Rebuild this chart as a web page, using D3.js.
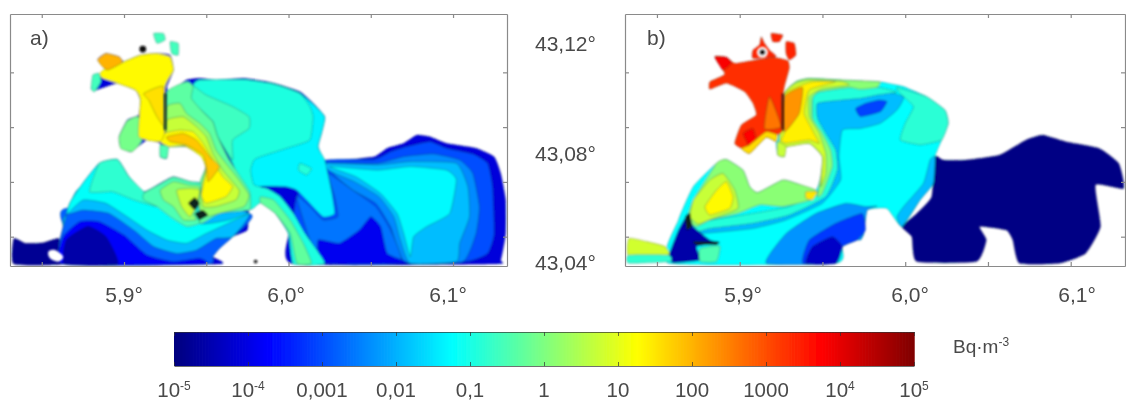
<!DOCTYPE html>
<html lang="en">
<head>
  <meta charset="UTF-8">
  <title>Bq concentration maps</title>
  <script src="https://d3js.org/d3.v7.min.js"></script>
  <style>
    body { margin: 0; background: #fff; }
    text { font-family: "Liberation Sans", Arial, sans-serif; fill: #4a4a4a; }
  </style>
</head>
<body>
  <svg id="chart" width="1126" height="400"></svg>

  <script>
    // ---- data: contour areas as [lon, lat] ----

    // panel a)
    const aOuter = [[5.884,43.1147],[5.889,43.1169],[5.897,43.1157],[5.900,43.1139],[5.910,43.1163],[5.920,43.1169],[5.928,43.1163],[5.930,43.1108],[5.926,43.1048],[5.928,43.1029],[5.938,43.1072],[5.946,43.1078],[5.956,43.1072],[5.973,43.1078],[5.987,43.1066],[5.995,43.1054],[6.007,43.1029],[6.015,43.0987],[6.022,43.0938],[6.020,43.0877],[6.018,43.0829],[6.022,43.0780],[6.033,43.0780],[6.052,43.0792],[6.060,43.0823],[6.070,43.0841],[6.078,43.0871],[6.086,43.0865],[6.096,43.0841],[6.114,43.0823],[6.125,43.0792],[6.129,43.0731],[6.132,43.0634],[6.132,43.0512],[6.129,43.0415],[6.125,43.0400],[6.003,43.0400],[6.000,43.0512],[5.992,43.0585],[5.983,43.0624],[5.976,43.0597],[5.975,43.0524],[5.966,43.0500],[5.958,43.0457],[5.954,43.0427],[5.958,43.0400],[5.863,43.0400],[5.863,43.0537],[5.867,43.0622],[5.875,43.0695],[5.885,43.0768],[5.896,43.0782],[5.903,43.0719],[5.912,43.0664],[5.922,43.0695],[5.930,43.0719],[5.940,43.0701],[5.947,43.0695],[5.950,43.0756],[5.948,43.0792],[5.938,43.0829],[5.927,43.0829],[5.926,43.0786],[5.922,43.0792],[5.922,43.0841],[5.914,43.0853],[5.904,43.0810],[5.898,43.0829],[5.897,43.0865],[5.902,43.0926],[5.909,43.0944],[5.910,43.0999],[5.907,43.1035],[5.896,43.1060],[5.883,43.1035],[5.880,43.1041],[5.884,43.1090],[5.889,43.1108]];
    const aSW = [[5.833,43.0400],[5.833,43.0493],[5.840,43.0476],[5.851,43.0478],[5.860,43.0494],[5.863,43.0463],[5.863,43.0400]];
    const aEast1 = [[6.021,43.0777],[6.052,43.0782],[6.062,43.0810],[6.072,43.0829],[6.086,43.0847],[6.096,43.0823],[6.112,43.0802],[6.121,43.0768],[6.124,43.0683],[6.125,43.0512],[6.121,43.0439],[6.106,43.0409],[6.021,43.0403],[6.003,43.0512],[6.005,43.0646]];
    const aEastBand = [[6.023,43.0768],[6.054,43.0768],[6.070,43.0792],[6.088,43.0802],[6.104,43.0780],[6.112,43.0731],[6.116,43.0610],[6.114,43.0512],[6.106,43.0409],[6.072,43.0403],[6.066,43.0464],[6.062,43.0537],[6.053,43.0622],[6.039,43.0670],[6.029,43.0719]];
    const aEastLight = [[6.021,43.0768],[6.054,43.0762],[6.074,43.0774],[6.102,43.0768],[6.109,43.0683],[6.110,43.0573],[6.104,43.0476],[6.102,43.0409],[6.074,43.0403],[6.068,43.0488],[6.064,43.0573],[6.055,43.0646],[6.040,43.0701],[6.026,43.0737]];
    const aEastCyan = [[6.025,43.0756],[6.054,43.0743],[6.074,43.0756],[6.096,43.0743],[6.102,43.0707],[6.098,43.0585],[6.084,43.0537],[6.076,43.0500],[6.074,43.0427],[6.070,43.0512],[6.066,43.0585],[6.056,43.0658],[6.041,43.0719]];
    const aMid = [[6.005,43.0646],[6.013,43.0610],[6.021,43.0561],[6.030,43.0573],[6.028,43.0646],[6.024,43.0731],[6.039,43.0670],[6.053,43.0610],[6.062,43.0524],[6.068,43.0403],[6.022,43.0403],[6.013,43.0488]];
    const aDeep = [[6.021,43.0403],[6.018,43.0488],[6.031,43.0476],[6.043,43.0524],[6.050,43.0573],[6.056,43.0537],[6.060,43.0439],[6.072,43.0403]];
    const aSBlue = [[5.866,43.0605],[5.976,43.0585],[5.966,43.0500],[5.958,43.0457],[5.954,43.0427],[5.950,43.0400],[5.863,43.0400],[5.863,43.0537]];
    const aSDark = [[5.863,43.0400],[5.863,43.0500],[5.873,43.0555],[5.885,43.0555],[5.900,43.0506],[5.914,43.0433],[5.930,43.0409],[5.946,43.0421],[5.948,43.0400]];
    const aSDarkest = [[5.864,43.0400],[5.865,43.0488],[5.878,43.0537],[5.889,43.0500],[5.896,43.0400]];
    const aSLight = [[5.866,43.0585],[5.875,43.0683],[5.946,43.0634],[5.976,43.0585],[5.966,43.0500],[5.956,43.0494],[5.944,43.0451],[5.932,43.0439],[5.918,43.0464],[5.906,43.0524],[5.891,43.0585],[5.875,43.0597]];
    const aSTop = [[5.863,43.0537],[5.867,43.0622],[5.875,43.0695],[5.885,43.0768],[5.896,43.0782],[5.903,43.0719],[5.912,43.0664],[5.922,43.0692],[5.930,43.0717],[5.940,43.0701],[5.947,43.0692],[5.946,43.0549],[5.964,43.0561],[5.976,43.0585],[5.950,43.0512],[5.938,43.0476],[5.926,43.0488],[5.914,43.0524],[5.902,43.0573],[5.889,43.0622],[5.875,43.0634],[5.864,43.0573]];
    const aSTurq = [[5.885,43.0768],[5.896,43.0782],[5.903,43.0719],[5.912,43.0664],[5.920,43.0610],[5.906,43.0634],[5.893,43.0664],[5.879,43.0664]];
    const aCentralCyan = [[5.954,43.0920],[5.966,43.0999],[5.987,43.1062],[6.007,43.1023],[6.022,43.0938],[6.018,43.0829],[6.022,43.0780],[6.026,43.0670],[6.028,43.0585],[6.021,43.0573],[6.011,43.0634],[6.005,43.0670],[5.998,43.0683],[5.983,43.0683],[5.977,43.0646],[5.966,43.0768],[5.957,43.0865]];
    const aTurq = [[5.942,43.1054],[5.946,43.1072],[5.973,43.1074],[5.987,43.1062],[5.995,43.1050],[6.007,43.1023],[6.013,43.0975],[6.015,43.0938],[6.013,43.0853],[5.999,43.0823],[5.983,43.0792],[5.979,43.0780],[5.977,43.0743],[5.979,43.0689],[5.987,43.0676],[5.995,43.0646],[6.003,43.0585],[6.010,43.0512],[6.022,43.0403],[6.003,43.0400],[6.000,43.0512],[5.992,43.0585],[5.983,43.0624],[5.976,43.0600],[5.966,43.0768],[5.957,43.0865],[5.954,43.0920],[5.948,43.0956],[5.940,43.1005]];
    const aTurqInner = [[5.942,43.1050],[5.950,43.1017],[5.966,43.0975],[5.976,43.0938],[5.976,43.0895],[5.966,43.0853],[5.966,43.0780],[5.957,43.0865],[5.954,43.0920],[5.948,43.0956],[5.940,43.1005]];
    const aTurqIslet = [[6.007,43.0768],[6.014,43.0749],[6.011,43.0725],[6.006,43.0743]];
    const aBayGreen = [[5.983,43.0646],[5.991,43.0634],[6.001,43.0561],[6.009,43.0476],[6.014,43.0403],[6.005,43.0403],[6.001,43.0512],[5.992,43.0585],[5.983,43.0624]];
    const aC1 = [[5.926,43.1029],[5.938,43.1066],[5.942,43.1050],[5.941,43.1005],[5.948,43.0956],[5.954,43.0920],[5.957,43.0865],[5.964,43.0780],[5.976,43.0670],[5.977,43.0634],[5.976,43.0597],[5.958,43.0585],[5.946,43.0549],[5.946,43.0695],[5.950,43.0756],[5.948,43.0792],[5.938,43.0829],[5.927,43.0829],[5.926,43.0889]];
    const aC2 = [[5.926,43.0975],[5.934,43.0987],[5.938,43.0950],[5.946,43.0914],[5.952,43.0877],[5.956,43.0816],[5.962,43.0768],[5.970,43.0707],[5.976,43.0652],[5.973,43.0610],[5.958,43.0585],[5.948,43.0573],[5.945,43.0634],[5.948,43.0695],[5.950,43.0756],[5.948,43.0792],[5.938,43.0829],[5.926,43.0853]];
    const aC3 = [[5.926,43.0926],[5.936,43.0938],[5.944,43.0902],[5.950,43.0865],[5.954,43.0804],[5.960,43.0743],[5.970,43.0670],[5.968,43.0634],[5.956,43.0610],[5.948,43.0610],[5.947,43.0683],[5.950,43.0756],[5.947,43.0798],[5.938,43.0835],[5.926,43.0853]];
    const aC4 = [[5.924,43.0877],[5.934,43.0889],[5.942,43.0883],[5.948,43.0841],[5.954,43.0780],[5.960,43.0719],[5.966,43.0683],[5.962,43.0646],[5.950,43.0622],[5.947,43.0652],[5.950,43.0743],[5.947,43.0792],[5.937,43.0832],[5.927,43.0829],[5.922,43.0847]];
    const aC5 = [[5.926,43.0865],[5.936,43.0877],[5.944,43.0853],[5.952,43.0792],[5.958,43.0756],[5.954,43.0719],[5.951,43.0701],[5.950,43.0756],[5.948,43.0798],[5.938,43.0835],[5.928,43.0847]];
    const aG1 = [[5.912,43.0658],[5.922,43.0692],[5.930,43.0717],[5.940,43.0701],[5.947,43.0692],[5.946,43.0646],[5.944,43.0585],[5.946,43.0549],[5.938,43.0537],[5.928,43.0573],[5.920,43.0610],[5.912,43.0634]];
    const aG2 = [[5.922,43.0670],[5.930,43.0701],[5.939,43.0689],[5.946,43.0683],[5.945,43.0634],[5.942,43.0585],[5.944,43.0561],[5.936,43.0561],[5.930,43.0610],[5.924,43.0634]];
    const aG3 = [[5.932,43.0670],[5.940,43.0676],[5.946,43.0670],[5.944,43.0610],[5.940,43.0573],[5.935,43.0610]];
    const aLobe = [[5.898,43.0822],[5.897,43.0865],[5.902,43.0923],[5.909,43.0938],[5.911,43.0853],[5.905,43.0810]];
    const aHarbour = [[5.889,43.1115],[5.900,43.1139],[5.910,43.1163],[5.920,43.1169],[5.928,43.1157],[5.930,43.1108],[5.925,43.1048],[5.925,43.0889],[5.922,43.0847],[5.909,43.0865],[5.910,43.0999],[5.907,43.1035],[5.896,43.1060],[5.887,43.1078],[5.885,43.1094]];
    const aHarbourCore = [[5.912,43.1023],[5.924,43.1048],[5.925,43.0902],[5.920,43.0938],[5.915,43.0999]];
    const aHarbourNW = [[5.884,43.1147],[5.889,43.1169],[5.897,43.1157],[5.899,43.1136],[5.890,43.1108],[5.886,43.1127]];
    const aTail = [[5.922,43.0835],[5.927,43.0829],[5.926,43.0786],[5.922,43.0792]];
    const aIslet1 = [[5.918,43.1242],[5.924,43.1242],[5.925,43.1218],[5.920,43.1206]];
    const aIslet2 = [[5.928,43.1212],[5.933,43.1206],[5.933,43.1163],[5.929,43.1169]];
    const aIslet3 = [[5.881,43.1090],[5.885,43.1096],[5.886,43.1066],[5.882,43.1029],[5.880,43.1041]];

    // panel b)
    const bNavy = [[6.016,43.0646],[6.018,43.0792],[6.023,43.0780],[6.037,43.0780],[6.057,43.0798],[6.073,43.0853],[6.083,43.0871],[6.097,43.0847],[6.117,43.0823],[6.129,43.0768],[6.132,43.0676],[6.115,43.0689],[6.118,43.0537],[6.109,43.0439],[6.093,43.0403],[6.069,43.0403],[6.065,43.0488],[6.061,43.0524],[6.045,43.0537],[6.049,43.0488],[6.043,43.0409],[6.007,43.0409],[6.004,43.0500],[5.998,43.0537],[6.007,43.0585]];
    const bBase = [[5.927,43.1023],[5.934,43.1066],[5.942,43.1078],[5.962,43.1072],[5.984,43.1066],[5.995,43.1054],[5.999,43.1048],[6.013,43.1011],[6.024,43.0962],[6.026,43.0914],[6.022,43.0853],[6.018,43.0792],[6.017,43.0695],[6.009,43.0634],[5.998,43.0537],[5.989,43.0603],[5.977,43.0597],[5.975,43.0512],[5.973,43.0488],[5.971,43.0488],[5.962,43.0464],[5.958,43.0403],[5.857,43.0403],[5.863,43.0561],[5.872,43.0683],[5.886,43.0768],[5.892,43.0782],[5.902,43.0743],[5.906,43.0683],[5.911,43.0661],[5.926,43.0707],[5.934,43.0695],[5.946,43.0670],[5.949,43.0719],[5.950,43.0792],[5.942,43.0841],[5.928,43.0829],[5.927,43.0792],[5.923,43.0798],[5.922,43.0847],[5.923,43.0877]];
    const bEastBlue = [[6.018,43.0792],[6.015,43.0780],[6.011,43.0695],[5.999,43.0610],[5.995,43.0573],[5.998,43.0537],[6.009,43.0634],[6.017,43.0695]];
    const bSouthBlue = [[5.916,43.0403],[5.928,43.0512],[5.946,43.0585],[5.964,43.0622],[5.976,43.0610],[5.983,43.0612],[5.977,43.0597],[5.975,43.0512],[5.973,43.0488],[5.971,43.0488],[5.962,43.0464],[5.958,43.0403]];
    const bSouthDark = [[5.938,43.0403],[5.942,43.0488],[5.958,43.0549],[5.974,43.0585],[5.976,43.0524],[5.971,43.0488],[5.962,43.0464],[5.958,43.0403]];
    const bSouthDarker = [[5.940,43.0403],[5.944,43.0464],[5.956,43.0500],[5.962,43.0464],[5.958,43.0403]];
    const bBlueBand = [[5.944,43.0999],[5.962,43.1017],[5.984,43.1035],[5.999,43.1011],[5.995,43.0962],[5.985,43.0914],[5.973,43.0895],[5.962,43.0889],[5.960,43.0792],[5.961,43.0707],[5.950,43.0622],[5.928,43.0561],[5.908,43.0530],[5.878,43.0512],[5.874,43.0524],[5.908,43.0573],[5.930,43.0597],[5.950,43.0658],[5.956,43.0756],[5.955,43.0816],[5.950,43.0877],[5.945,43.0932]];
    const bBluePatch = [[5.970,43.0968],[5.976,43.0987],[5.984,43.0999],[5.989,43.0993],[5.985,43.0956],[5.973,43.0938]];
    const bTeal = [[5.944,43.1005],[5.948,43.1029],[5.966,43.1045],[5.984,43.1045],[5.995,43.1029],[5.983,43.1017],[5.973,43.1005],[5.962,43.0999],[5.947,43.0987],[5.947,43.0932],[5.952,43.0877],[5.958,43.0816],[5.959,43.0743],[5.952,43.0646],[5.930,43.0579],[5.908,43.0549],[5.882,43.0530],[5.874,43.0518],[5.872,43.0549],[5.908,43.0585],[5.930,43.0610],[5.947,43.0664],[5.954,43.0756],[5.953,43.0816],[5.948,43.0877],[5.944,43.0932]];
    const bGreen = [[5.927,43.1023],[5.934,43.1066],[5.942,43.1078],[5.962,43.1072],[5.984,43.1066],[5.985,43.1062],[5.983,43.1045],[5.973,43.1038],[5.966,43.1045],[5.948,43.1029],[5.944,43.1005],[5.944,43.0932],[5.950,43.0877],[5.955,43.0816],[5.956,43.0756],[5.950,43.0658],[5.947,43.0646],[5.949,43.0719],[5.950,43.0792],[5.942,43.0841],[5.928,43.0829],[5.924,43.0853]];
    const bLime = [[5.927,43.1021],[5.934,43.1060],[5.942,43.1072],[5.962,43.1066],[5.966,43.1054],[5.950,43.1041],[5.942,43.1011],[5.942,43.0938],[5.948,43.0877],[5.952,43.0804],[5.952,43.0731],[5.949,43.0683],[5.950,43.0792],[5.942,43.0841],[5.928,43.0829],[5.924,43.0853]];
    const bYellow = [[5.927,43.1017],[5.936,43.1050],[5.944,43.1066],[5.958,43.1066],[5.942,43.1035],[5.939,43.0950],[5.944,43.0889],[5.948,43.0841],[5.942,43.0853],[5.928,43.0841],[5.925,43.0853],[5.927,43.0883]];
    const bOrange = [[5.927,43.1011],[5.938,43.1045],[5.936,43.0950],[5.927,43.0883]];
    const bTurqEast = [[5.995,43.1045],[6.013,43.1011],[6.024,43.0962],[6.026,43.0914],[6.022,43.0853],[6.009,43.0835],[5.997,43.0853],[6.000,43.0914],[6.005,43.0975],[5.997,43.1023]];
    const bRed = [[5.885,43.1157],[5.892,43.1155],[5.897,43.1133],[5.908,43.1143],[5.920,43.1155],[5.929,43.1143],[5.930,43.1115],[5.927,43.1048],[5.926,43.0999],[5.926,43.0889],[5.923,43.0871],[5.922,43.0847],[5.916,43.0863],[5.906,43.0804],[5.901,43.0822],[5.897,43.0841],[5.901,43.0908],[5.910,43.0944],[5.908,43.0987],[5.903,43.1029],[5.892,43.1060],[5.882,43.1038],[5.882,43.1066],[5.891,43.1094]];
    const bRedTip = [[5.885,43.1157],[5.892,43.1155],[5.895,43.1133],[5.890,43.1108],[5.887,43.1133]];
    const bHarbourOrange = [[5.918,43.1011],[5.925,43.0902],[5.915,43.0895]];
    const bLobeRed = [[5.902,43.0877],[5.908,43.0895],[5.910,43.0853],[5.906,43.0829]];
    const bHarbourSouth = [[5.901,43.0822],[5.906,43.0804],[5.916,43.0863],[5.922,43.0847],[5.923,43.0871],[5.916,43.0883],[5.906,43.0835]];
    const bTail = [[5.923,43.0847],[5.928,43.0829],[5.927,43.0792],[5.923,43.0798]];
    const bIslet1 = [[5.928,43.1212],[5.933,43.1206],[5.934,43.1163],[5.930,43.1145],[5.928,43.1169]];
    const bIslet2 = [[5.919,43.1242],[5.926,43.1236],[5.924,43.1212],[5.920,43.1212]];
    const bIslet3 = [[5.908,43.1181],[5.912,43.1200],[5.913,43.1230],[5.915,43.1206],[5.918,43.1181],[5.922,43.1157],[5.908,43.1151]];
    const bSWGreen = [[5.872,43.0634],[5.886,43.0768],[5.892,43.0782],[5.902,43.0743],[5.906,43.0683],[5.911,43.0661],[5.926,43.0707],[5.934,43.0695],[5.946,43.0670],[5.943,43.0634],[5.926,43.0610],[5.912,43.0616],[5.899,43.0585],[5.882,43.0561],[5.874,43.0537],[5.868,43.0561]];
    const bSWLime = [[5.872,43.0634],[5.882,43.0707],[5.890,43.0731],[5.897,43.0670],[5.899,43.0603],[5.884,43.0567],[5.875,43.0546],[5.870,43.0573]];
    const bSWYellow = [[5.879,43.0610],[5.886,43.0670],[5.892,43.0701],[5.896,43.0646],[5.894,43.0603],[5.882,43.0579]];
    const bSWOrange = [[5.940,43.0664],[5.947,43.0664],[5.944,43.0634],[5.940,43.0640]];
    const bNavySW = [[5.857,43.0427],[5.863,43.0524],[5.869,43.0585],[5.872,43.0537],[5.882,43.0488],[5.888,43.0478],[5.874,43.0464],[5.876,43.0415],[5.860,43.0405]];
    const bPatchGreen = [[5.876,43.0457],[5.888,43.0466],[5.886,43.0409],[5.876,43.0409]];
    const bStub = [[5.833,43.0494],[5.844,43.0482],[5.855,43.0464],[5.857,43.0433],[5.833,43.0427]];
    const bStubLow = [[5.833,43.0433],[5.857,43.0433],[5.858,43.0409],[5.833,43.0403]];

    // dark areas, no level on the colour bar
    const aSpots = [[[5.939,43.0622],[5.943,43.0644],[5.946,43.0622],[5.943,43.0597]], [[5.943,43.0585],[5.948,43.0597],[5.951,43.0579],[5.946,43.0561]]];
    const bSpots = [[[5.867,43.0573],[5.870,43.0585],[5.871,43.0537],[5.868,43.0524]], [[5.872,43.0482],[5.887,43.0482],[5.886,43.0470],[5.874,43.0470]]];
    const aHoles = [[[5.854,43.0445],[5.858,43.0451],[5.863,43.0427],[5.860,43.0409],[5.855,43.0421]]];
    const aDike = [[5.925,43.1023],[5.925,43.0889]];
    const bDike = [[5.926,43.1023],[5.926,43.0889]];
    const aPoints = [[5.9114,43.1185],[5.980,43.0409]];
    const bPoint = [5.9137,43.1173];

    // [area, log10 of the concentration], drawn in this order
    const aLayers = [
      [aOuter,-4.1],[aSW,-4.8],[aEast1,-3.0],[aEastBand,-2.4],[aEastLight,-1.9],[aEastCyan,-1.3],[aMid,-2.6],[aDeep,-3.9],
      [aSBlue,-2.8],[aSDark,-3.8],[aSDarkest,-4.6],[aSLight,-1.9],[aSTop,-1.2],[aSTurq,-0.8],
      [aCentralCyan,-1.35],[aTurq,-0.95],[aTurqInner,-0.65],[aTurqIslet,-0.9],[aBayGreen,-0.3],
      [aC1,-0.35],[aC2,0.2],[aC3,0.7],[aC4,1.3],[aC5,1.8],[aG1,-0.5],[aG2,0.1],[aG3,0.75],
      [aLobe,-0.1],[aHarbour,1.3],[aHarbourCore,1.55],[aHarbourNW,2.0],[aTail,-0.5],[aIslet1,-0.6],[aIslet2,-0.6],[aIslet3,-0.6]
    ];
    const bLayers = [
      [bNavy,-4.95],[bBase,-1.25],[bEastBlue,-1.9],[bSouthBlue,-2.3],[bSouthDark,-3.2],[bSouthDarker,-4.3],
      [bBlueBand,-1.9],[bBluePatch,-3.1],[bTeal,-0.9],[bGreen,0.1],[bLime,0.8],[bYellow,1.4],[bOrange,2.3],[bTurqEast,-0.85],
      [bSWGreen,0.1],[bSWLime,0.7],[bSWYellow,1.3],[bSWOrange,1.5],[bNavySW,-4.6],[bPatchGreen,-0.5],[bStub,0.8],[bStubLow,-0.8],
      [bRed,3.3],[bRedTip,3.8],[bHarbourOrange,2.6],[bLobeRed,3.7],[bHarbourSouth,1.6],[bTail,0.7],[bIslet1,3.4],[bIslet2,3.4],[bIslet3,3.4]
    ];

    const lonTicks = [5.85,5.9,5.95,6,6.05,6.1];
    const latTicks = [43.05,43.07,43.09,43.11];
    const lonLabels = [5.9,6.0,6.1];
    const latLabels = [43.12,43.08,43.04];
    const barTicks = [1e-5,1e-4,1e-3,1e-2,1e-1,1,10,100,1000,1e4,1e5];
    const barLabels = [['10','-5'],['10','-4'],['0,001'],['0,01'],['0,1'],['1'],['10'],['100'],['1000'],['10','4'],['10','5']];

    // ---- drawing ----
    const svg = d3.select('#chart');

    // jet colour map on log10 of the concentration
    const color = d3.scaleLinear()
      .domain([-5,-3.75,-1.25,1.25,3.75,5])
      .range(['#00007f','#0000ff','#00ffff','#ffff00','#ff0000','#7f0000']);

    const defs = svg.append('defs');
    defs.append('filter').attr('id', 'soft')
      .append('feGaussianBlur').attr('stdDeviation', 1);
    defs.append('filter').attr('id', 'softText')
      .append('feGaussianBlur').attr('stdDeviation', 0.6);

    const lonDomain = [5.8307, 6.1328];
    const latDomain = [43.0393, 43.1313];
    const y = d3.scaleLinear().domain(latDomain).range([266, 14]);

    function drawPanel(id, left, right, layers, spots, name, nameX) {
      const x = d3.scaleLinear().domain(lonDomain).range([left, right]);
      const line = d3.line().x(d => x(d[0])).y(d => y(d[1])).curve(d3.curveCardinalClosed.tension(0.55));

      defs.append('clipPath').attr('id', 'clip' + id)
        .append('rect').attr('x', left).attr('y', 14).attr('width', right - left).attr('height', 252);

      const map = svg.append('g').attr('clip-path', 'url(#clip' + id + ')')
        .append('g').attr('filter', 'url(#soft)');

      map.selectAll('path.area').data(layers).enter().append('path')
        .attr('class', 'area')
        .attr('d', d => line(d[0]))
        .attr('fill', d => color(d[1]))
        .attr('stroke', '#103030')
        .attr('stroke-opacity', 0.5)
        .attr('stroke-width', 0.6);

      map.selectAll('path.spot').data(spots).enter().append('path')
        .attr('class', 'spot')
        .attr('d', line)
        .attr('fill', '#08201a');

      // frame: the axes with short inward ticks
      const frame = svg.append('g').attr('filter', 'url(#softText)');
      const sides = [
        [d3.axisBottom(x).tickValues(lonTicks), 'translate(0,266)', -4],
        [d3.axisTop(x).tickValues(lonTicks), 'translate(0,14)', -4],
        [d3.axisLeft(y).tickValues(latTicks), 'translate(' + left + ',0)', -4],
        [d3.axisRight(y).tickValues(latTicks), 'translate(' + right + ',0)', -4]
      ];
      sides.forEach(s => {
        const g = frame.append('g').attr('transform', s[1])
          .call(s[0].tickSizeInner(s[2]).tickSizeOuter(0).tickFormat(''));
        g.selectAll('path, line').attr('stroke', '#8a8a8a').attr('stroke-width', 1.2);
      });

      svg.append('text').attr('x', nameX).attr('y', 45)
        .attr('font-size', 21).attr('filter', 'url(#softText)').text(name);
      return x;
    }

    const xA = drawPanel('A', 10, 507, aLayers, aSpots, 'a)', 30);
    const xB = drawPanel('B', 625, 1125, bLayers, bSpots, 'b)', 647);

    // extras on panel a
    const mapA = svg.append('g').attr('filter', 'url(#soft)');
    mapA.selectAll('path.hole').data(aHoles).enter().append('path')
      .attr('d', d3.line().x(d => xA(d[0])).y(d => y(d[1])).curve(d3.curveCardinalClosed))
      .attr('fill', '#fff');
    mapA.append('line').attr('x1', xA(aDike[0][0])).attr('y1', y(aDike[0][1]))
      .attr('x2', xA(aDike[1][0])).attr('y2', y(aDike[1][1]))
      .attr('stroke', '#0c3a20').attr('stroke-width', 2.6);
    mapA.selectAll('circle').data(aPoints).enter().append('circle')
      .attr('cx', d => xA(d[0])).attr('cy', d => y(d[1]))
      .attr('r', (d, i) => i === 0 ? 3.4 : 1.8)
      .attr('fill', '#111');

    // extras on panel b
    const mapB = svg.append('g').attr('filter', 'url(#soft)');
    mapB.append('line').attr('x1', xB(bDike[0][0])).attr('y1', y(bDike[0][1]))
      .attr('x2', xB(bDike[1][0])).attr('y2', y(bDike[1][1]))
      .attr('stroke', '#3a0808').attr('stroke-width', 2);
    mapB.append('circle').attr('cx', xB(bPoint[0])).attr('cy', y(bPoint[1]))
      .attr('r', 5.5).attr('fill', '#fff');
    mapB.append('circle').attr('cx', xB(bPoint[0])).attr('cy', y(bPoint[1]))
      .attr('r', 3).attr('fill', '#111');

    // axis labels, placed slightly off the ticks as in the picture
    const labelsText = svg.append('g').attr('filter', 'url(#softText)').attr('font-size', 21);
    const xLabelA = d3.scaleLinear().domain([5.9, 6.1]).range([124, 448]);
    const xLabelB = d3.scaleLinear().domain([5.9, 6.1]).range([743, 1077]);
    [xLabelA, xLabelB].forEach(sc => {
      labelsText.selectAll(null).data(lonLabels).enter().append('text')
        .attr('x', d => sc(d)).attr('y', 302).attr('text-anchor', 'middle')
        .text(d => d3.format('.1f')(d).replace('.', ',') + '°');
    });
    labelsText.selectAll(null).data(latLabels).enter().append('text')
      .attr('x', 535).attr('y', d => y(d) + 6)
      .text(d => d3.format('.2f')(d).replace('.', ',') + '°');

    // colour bar
    const barScale = d3.scaleLog().domain([1e-5, 1e5]).range([174, 914]);
    const bar = svg.append('g').attr('filter', 'url(#softText)');
    const steps = d3.range(-5, 5, 0.02);
    bar.selectAll('rect').data(steps).enter().append('rect')
      .attr('x', d => barScale(Math.pow(10, d)))
      .attr('y', 332)
      .attr('width', 2.2)
      .attr('height', 34)
      .attr('fill', d => color(d));
    [[366, -4], [332, 4]].forEach(s => {
      const axis = s[0] === 366 ? d3.axisBottom(barScale) : d3.axisTop(barScale);
      const g = bar.append('g').attr('transform', 'translate(0,' + s[0] + ')')
        .call(axis.tickValues(barTicks).tickFormat('').tickSizeOuter(0).tickSizeInner(-4));
      g.selectAll('path, line').attr('stroke', '#333').attr('stroke-opacity', 0.7);
    });

    const barText = svg.append('g').attr('filter', 'url(#softText)').attr('font-size', 20.5);
    barTicks.forEach((v, i) => {
      const t = barText.append('text').attr('x', barScale(v)).attr('y', 397).attr('text-anchor', 'middle');
      t.append('tspan').text(barLabels[i][0]);
      if (barLabels[i][1]) {
        t.append('tspan').attr('font-size', 12).attr('dy', -7).text(barLabels[i][1]);
      }
    });

    const unit = barText.append('text').attr('x', 953).attr('y', 353).attr('font-size', 19);
    unit.append('tspan').text('Bq·m');
    unit.append('tspan').attr('font-size', 12).attr('dy', -7).text('-3');
  </script>
</body>
</html>
